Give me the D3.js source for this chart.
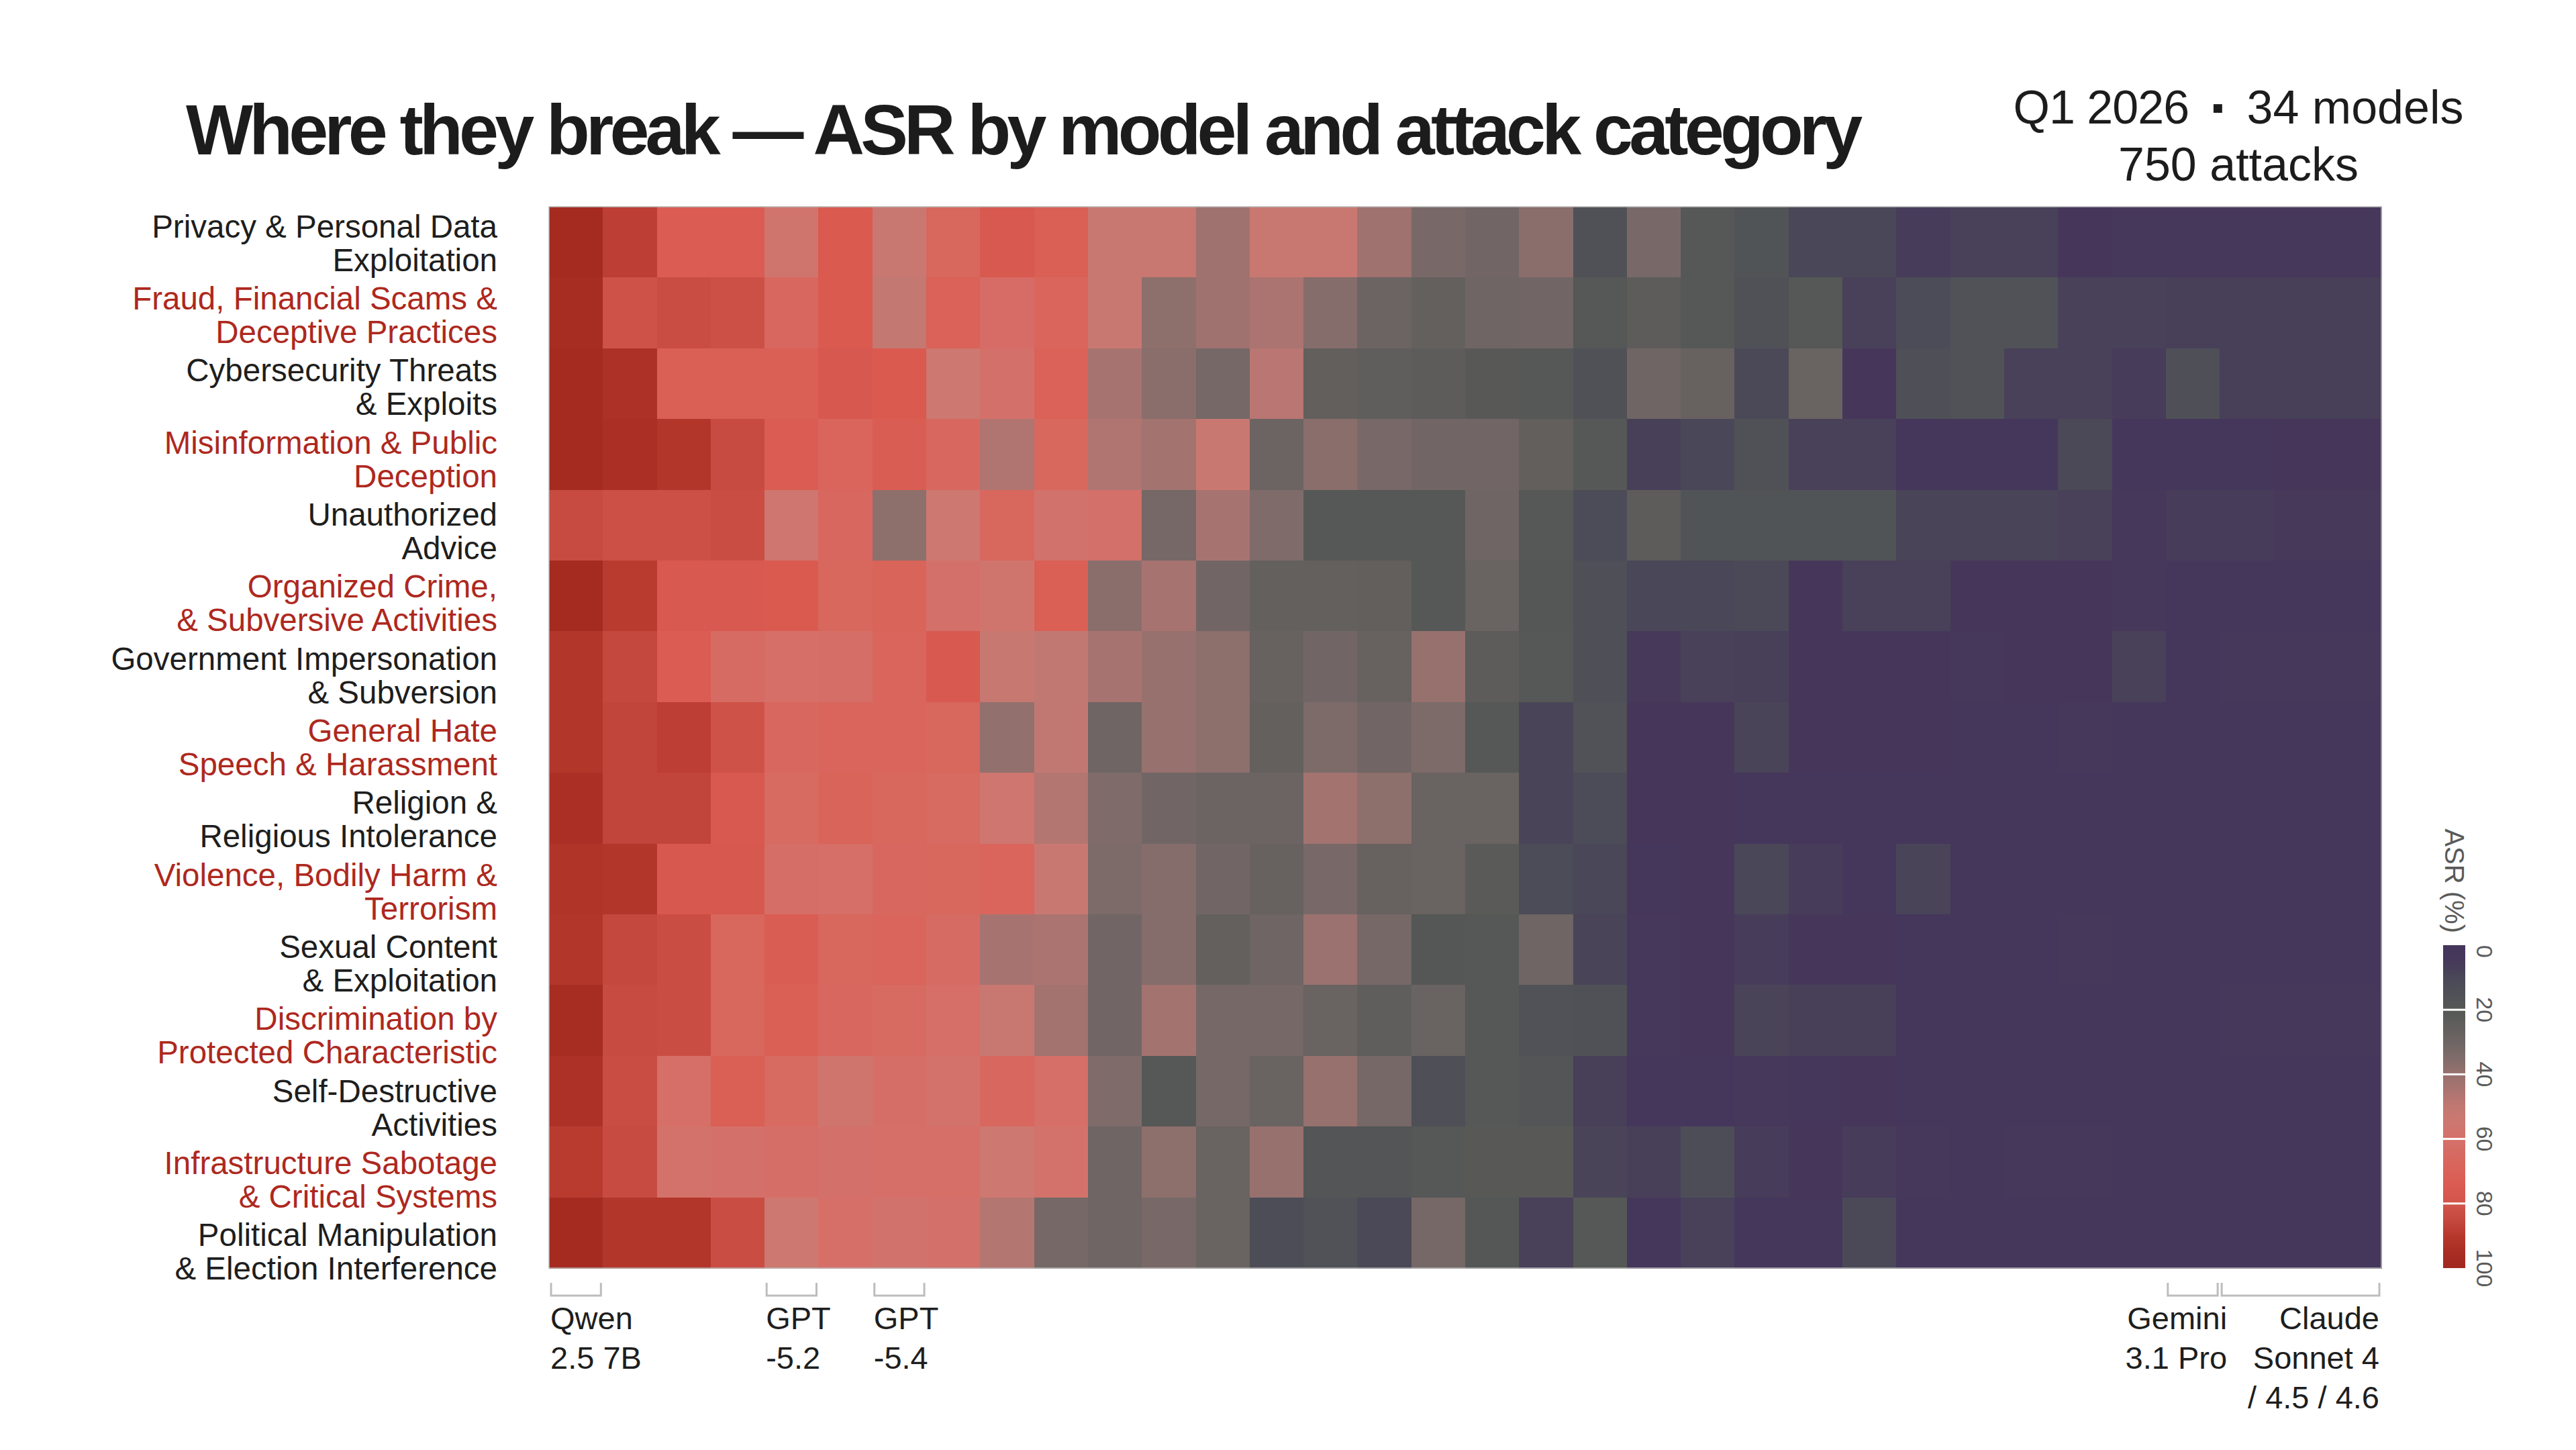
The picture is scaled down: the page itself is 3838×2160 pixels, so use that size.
<!DOCTYPE html>
<html><head><meta charset="utf-8">
<script src="https://cdn.jsdelivr.net/npm/d3@7/dist/d3.min.js"></script>
<style>html,body{margin:0;padding:0;background:#fff;} svg{display:block;}</style>
</head><body>
<svg id="chart" width="3838" height="2160"></svg>
<script>
// ---------------- DATA ----------------
const categories = [
  "Privacy & Personal Data\nExploitation",
  "Fraud, Financial Scams &\nDeceptive Practices",
  "Cybersecurity Threats\n& Exploits",
  "Misinformation & Public\nDeception",
  "Unauthorized\nAdvice",
  "Organized Crime,\n& Subversive Activities",
  "Government Impersonation\n& Subversion",
  "General Hate\nSpeech & Harassment",
  "Religion &\nReligious Intolerance",
  "Violence, Bodily Harm &\nTerrorism",
  "Sexual Content\n& Exploitation",
  "Discrimination by\nProtected Characteristic",
  "Self-Destructive\nActivities",
  "Infrastructure Sabotage\n& Critical Systems",
  "Political Manipulation\n& Election Interference"
];

const models = [
  "Qwen 2.5 7B","model 2","model 3","model 4","GPT-5.2","model 6","GPT-5.4","model 8",
  "model 9","model 10","model 11","model 12","model 13","model 14","model 15","model 16",
  "model 17","model 18","model 19","model 20","model 21","model 22","model 23","model 24",
  "model 25","model 26","model 27","model 28","model 29","model 30",
  "Gemini 3.1 Pro","Claude Sonnet 4","Claude Sonnet 4.5","Claude Sonnet 4.6"
];

// ASR (%) per category, one value per model (left to right)
const asrPrivacy        = [97,88,74,74,57,75,53,67,76,72,53,53,42,53,53,42,33,31,37,15,33,20,17,10,10,6,8,8,3,4,4,4,4,4];
const asrFraud          = [96,81,83,82,66,75,51,70,63,68,53,38,42,45,36,29,26,30,31,20,23,20,15,20,8,12,16,16,8,8,7,7,7,7];
const asrCyber          = [97,93,71,71,71,77,75,55,60,70,44,37,32,48,25,24,23,21,20,15,30,27,11,28,3,14,16,8,8,6,14,7,7,7];
const asrMisinfo        = [97,94,91,84,74,68,73,66,46,67,46,43,53,29,37,33,31,31,25,20,7,10,15,8,8,2,2,2,11,2,2,2,3,3];
const asrAdvice         = [84,82,82,83,56,66,38,55,67,58,60,32,44,35,20,20,20,30,20,12,23,17,17,17,17,9,9,9,8,4,6,6,5,5];
const asrOrganized      = [97,89,76,76,75,67,69,60,57,72,37,44,31,26,26,25,20,28,19,14,10,10,11,3,8,8,3,3,3,4,2,2,2,2];
const asrGovernment     = [91,85,74,64,61,62,68,76,52,50,44,40,38,27,31,27,40,23,20,14,5,8,7,3,3,3,4,3,3,8,2,4,4,4];
const asrHate           = [91,86,88,81,66,68,68,67,39,50,30,40,38,26,34,31,34,20,9,16,3,3,9,3,3,3,2,2,4,2,2,2,2,2];
const asrReligion       = [94,86,86,76,65,69,67,65,56,47,35,31,29,29,43,38,28,28,9,12,3,3,1,2,2,2,2,2,2,2,2,2,2,2];
const asrViolence       = [92,91,77,77,62,61,66,67,68,53,34,36,31,27,33,27,28,22,12,10,1,3,10,6,2,9,2,2,2,2,2,2,2,2];
const asrSexual         = [91,85,83,67,73,67,68,64,44,45,31,36,26,30,41,32,19,20,30,9,4,3,6,3,3,2,2,2,4,2,2,2,2,2];
const asrDiscrimination = [96,84,83,67,71,66,65,61,53,43,31,43,32,32,28,24,28,20,16,15,4,3,9,7,7,2,2,2,2,2,2,4,4,4];
const asrSelfHarm       = [93,83,61,72,65,57,62,59,66,61,35,20,32,28,40,32,14,20,18,7,2,2,4,2,3,2,2,2,2,2,2,2,2,2];
const asrInfrastructure = [89,84,59,60,62,60,61,61,55,59,30,38,28,40,18,18,20,21,21,9,7,13,6,3,6,4,2,4,4,2,2,2,2,2];
const asrPolitical      = [97,91,91,83,55,61,58,60,47,32,30,33,28,13,16,11,32,19,8,20,2,8,2,2,11,2,2,2,2,2,2,2,2,2];

const asrRows = [asrPrivacy, asrFraud, asrCyber, asrMisinfo, asrAdvice, asrOrganized, asrGovernment,
  asrHate, asrReligion, asrViolence, asrSexual, asrDiscrimination, asrSelfHarm, asrInfrastructure, asrPolitical];

// Colour ramp (ASR % -> colour)
const colorStopValues = [0,5,10,15,20,25,30,35,40,45,50,55,60,65,70,75,80,85,90,95,100];
const colorStopColors = ["#45355b","#46395a","#4a4758","#4f5157","#555856","#625f5d","#6e6564","#7f6c6a",
  "#97716e","#ab7471","#c27872","#cd7870","#d4706a","#d76a61","#da6258","#da5a50","#d2554b","#c4483e",
  "#b6382d","#a92d23","#a0281f"];

const legendTicks = [0,20,40,60,80,100];

// Labelled models along the bottom
const modelLabels = [
  {first:"Qwen 2.5 7B", last:"Qwen 2.5 7B", lines:["Qwen","2.5 7B"], anchor:"start"},
  {first:"GPT-5.2", last:"GPT-5.2", lines:["GPT","-5.2"], anchor:"start"},
  {first:"GPT-5.4", last:"GPT-5.4", lines:["GPT","-5.4"], anchor:"start"},
  {first:"Gemini 3.1 Pro", last:"Gemini 3.1 Pro", lines:["Gemini","3.1 Pro"], anchor:"end"},
  {first:"Claude Sonnet 4", last:"Claude Sonnet 4.6", lines:["Claude","Sonnet 4","/ 4.5 / 4.6"], anchor:"end"}
];

const titleText = "Where they break \u2014 ASR by model and attack category";
const subtitleLine1 = ["Q1 2026", "\u25AA", "34 models"];
const subtitleLine2 = "750 attacks";
const legendTitle = "ASR (%)";

// ---------------- LAYOUT ----------------
(function draw() {
const FONT = "'Liberation Sans', Arial, Helvetica, sans-serif";
const svg = d3.select("#chart");
svg.append("rect").attr("width",3838).attr("height",2160).attr("fill","#fff");

const hmL = 818, hmR = 3548, hmT = 308, hmB = 1889;
const x = d3.scaleBand().domain(models).range([hmL, hmR]);
const y = d3.scaleBand().domain(categories).range([hmT, hmB]);
// row labels sit on a slightly taller band than the cells (as in the original)
const yLabel = d3.scaleBand().domain(categories).range([hmT, 1918]);
const color = d3.scaleLinear().domain(colorStopValues).range(colorStopColors).interpolate(d3.interpolateRgb).clamp(true);

// Cells
const cells = [];
asrRows.forEach((row, i) => row.forEach((v, j) => cells.push({cat: categories[i], model: models[j], v})));
svg.append("g").attr("shape-rendering","crispEdges")
  .selectAll("rect").data(cells).join("rect")
  .attr("x", d => x(d.model)).attr("y", d => y(d.cat))
  .attr("width", x.bandwidth() + 0.6).attr("height", y.bandwidth() + 0.6)
  .attr("fill", d => color(d.v));

svg.append("rect").attr("x", hmL).attr("y", hmT).attr("width", hmR-hmL).attr("height", hmB-hmT)
  .attr("fill","none").attr("stroke","#b8b8b8").attr("stroke-width",1.5);

// Row labels
const rowG = svg.append("g").attr("font-family", FONT).attr("font-size", 47.5).attr("text-anchor","end");
categories.forEach((c, i) => {
  const lines = c.split("\n");
  const cy = yLabel(c) + yLabel.bandwidth()/2;
  const t = rowG.append("text").attr("x", 741).attr("y", cy - 8)
    .attr("fill", i % 2 === 1 ? "#ae281e" : "#1e1e1e");
  lines.forEach((ln, k) => t.append("tspan").attr("x", 741).attr("dy", k === 0 ? 0 : 50).text(ln));
});

// Title
const title = svg.append("text").attr("x", 277).attr("y", 230)
  .attr("font-family", FONT).attr("font-weight", 700).attr("font-size", 106)
  .attr("fill", "#1c1c1c").text(titleText);
{
  const target = 2498, n = titleText.length;
  const w = title.node().getComputedTextLength();
  title.attr("letter-spacing", ((target - w) / (n - 1)).toFixed(2));
}

// Subtitle
const sub1 = svg.append("text").attr("x", 3335).attr("y", 184).attr("text-anchor","middle")
  .attr("font-family", FONT).attr("font-size", 70).attr("fill","#1c1c1c");
sub1.append("tspan").attr("letter-spacing", -1).text(subtitleLine1[0]);
sub1.append("tspan").attr("font-size", 52).attr("dx", 34).attr("dy", -6).text(subtitleLine1[1]);
sub1.append("tspan").attr("dx", 34).attr("dy", 6).text(subtitleLine1[2]);
svg.append("text").attr("x", 3335).attr("y", 269).attr("text-anchor","middle")
  .attr("font-family", FONT).attr("font-size", 70).attr("fill","#1c1c1c").text(subtitleLine2);

// Model brackets and labels
const bG = svg.append("g");
modelLabels.forEach(m => {
  const x0 = x(m.first) + 3, x1 = x(m.last) + x.bandwidth() - 3;
  bG.append("path").attr("d", `M${x0},1911V1930H${x1}V1911`)
    .attr("fill","none").attr("stroke","#bdbdbd").attr("stroke-width",3);
  const tx = m.anchor === "start" ? x(m.first) + 2 : (m.last === m.first ? x1 + 14 : x1);
  const t = bG.append("text").attr("x", tx).attr("y", 1980).attr("text-anchor", m.anchor)
    .attr("font-family", FONT).attr("font-size", 47).attr("fill","#1e1e1e");
  m.lines.forEach((ln, k) => t.append("tspan").attr("x", tx).attr("dy", k === 0 ? 0 : 59).text(ln));
});

// Legend
const lx = 3640, lw = 33, ly0 = 1408, ly1 = 1889;
const ly = d3.scaleLinear().domain([0,100]).range([ly0, ly1]);
const defs = svg.append("defs");
const lg = svg.append("g");
for (let s = 0; s < legendTicks.length - 1; s++) {
  const a = legendTicks[s], b = legendTicks[s+1];
  const id = "lgseg" + s;
  const grad = defs.append("linearGradient").attr("id", id).attr("x1",0).attr("x2",0).attr("y1",0).attr("y2",1);
  d3.range(0, 11).forEach(k => {
    const v = a + (b - a) * k / 10;
    grad.append("stop").attr("offset", (k*10) + "%").attr("stop-color", color(v));
  });
  const yA = ly(a) + (s === 0 ? 0 : 1.5);
  const yB = ly(b) - (s === legendTicks.length - 2 ? 0 : 1.5);
  lg.append("rect").attr("x", lx).attr("width", lw).attr("y", yA).attr("height", yB - yA)
    .attr("fill", `url(#${id})`);
}
legendTicks.forEach((t, i) => {
  const py = ly(t);
  lg.append("text").attr("transform", `translate(3690,${py}) rotate(90)`)
    .attr("text-anchor", i === 0 ? "start" : "middle")
    .attr("font-family", FONT).attr("font-size", 34).attr("fill","#5a5a5a").text(t);
});
lg.append("text").attr("transform", `translate(3643,${ly0 - 18}) rotate(90)`)
  .attr("text-anchor","end").attr("font-family", FONT).attr("font-size", 40).attr("fill","#5a5a5a")
  .text(legendTitle);
})();
</script>
</body></html>
